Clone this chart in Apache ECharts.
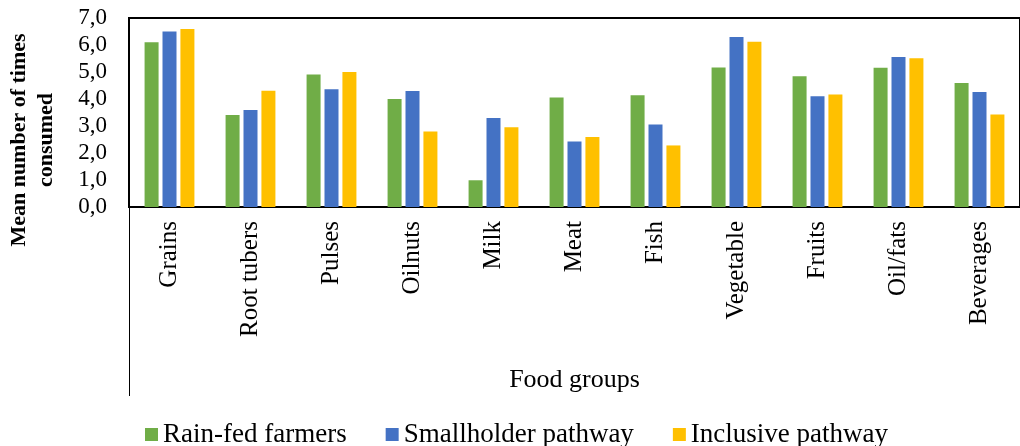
<!DOCTYPE html>
<html>
<head>
<meta charset="utf-8">
<script src="https://cdn.jsdelivr.net/npm/echarts@6/dist/echarts.min.js"></script>
<style>
    html, body { margin: 0; padding: 0; background: #fff; }
    #chart { width: 1020px; height: 446px; }
</style>
</head>
<body>
<div id="chart"></div>
<script>
let categories = ['Grains', 'Root tubers', 'Pulses', 'Oilnuts', 'Milk', 'Meat', 'Fish', 'Vegetable', 'Fruits', 'Oil/fats', 'Beverages']
let rainFed = [6.10, 3.41, 4.91, 4.00, 0.99, 4.06, 4.14, 5.17, 4.84, 5.16, 4.59]
let smallholder = [6.50, 3.59, 4.36, 4.30, 3.30, 2.43, 3.06, 6.30, 4.10, 5.56, 4.26]
let inclusive = [6.59, 4.31, 5.00, 2.80, 2.95, 2.59, 2.28, 6.12, 4.17, 5.51, 3.43]
let seriesNames = ['Rain-fed farmers', 'Smallholder pathway', 'Inclusive pathway']
let colors = ['#70AD47', '#4472C4', '#FFC000']

let font = "'Liberation Serif', 'Times New Roman', serif"

function makeSeries(name, data, color) {
    return {
        name: name,
        type: 'bar',
        data: data,
        barWidth: 14,
        barGap: '28%',
        itemStyle: {color: color}
    }
}

let chart = echarts.init(document.getElementById('chart'))
let option = {
    animation: false,
    textStyle: {fontFamily: font, color: '#000'},
    grid: {
        left: 129,
        top: 18,
        width: 895,
        height: 189,
        show: true,
        borderColor: '#000',
        borderWidth: 2
    },
    legend: {
        left: 140,
        top: 416,
        icon: 'rect',
        itemWidth: 13,
        itemHeight: 13,
        itemGap: 39,
        textStyle: {fontFamily: font, fontSize: 27, color: '#000'},
        data: seriesNames
    },
    xAxis: {
        type: 'category',
        data: categories,
        name: 'Food groups',
        nameLocation: 'middle',
        nameGap: 160,
        nameTextStyle: {fontFamily: font, fontSize: 26, color: '#000'},
        axisLine: {lineStyle: {color: '#000', width: 2}},
        axisTick: {show: false},
        axisLabel: {
            rotate: 90,
            margin: 14,
            fontFamily: font,
            fontSize: 25,
            color: '#000',
            interval: 0
        }
    },
    yAxis: {
        type: 'value',
        min: 0,
        max: 7,
        interval: 1,
        axisLine: {show: false},
        axisTick: {show: false},
        splitLine: {show: false},
        axisLabel: {
            margin: 22,
            fontFamily: font,
            fontSize: 23,
            color: '#000',
            formatter: function (v) {
                return v.toFixed(1).replace('.', ',')
            }
        }
    },
    graphic: [{
        type: 'text',
        x: 33,
        y: 140,
        rotation: Math.PI / 2,
        style: {
            text: 'Mean number of times\nconsumed',
            font: 'bold 22px ' + font,
            fill: '#000',
            align: 'center',
            verticalAlign: 'middle',
            lineHeight: 27
        }
    }, {
        type: 'line',
        shape: {x1: 129.5, y1: 207, x2: 129.5, y2: 396},
        style: {stroke: '#000', lineWidth: 1}
    }],
    series: [
        makeSeries(seriesNames[0], rainFed, colors[0]),
        makeSeries(seriesNames[1], smallholder, colors[1]),
        makeSeries(seriesNames[2], inclusive, colors[2])
    ]
}
chart.setOption(option)
</script>
</body>
</html>
